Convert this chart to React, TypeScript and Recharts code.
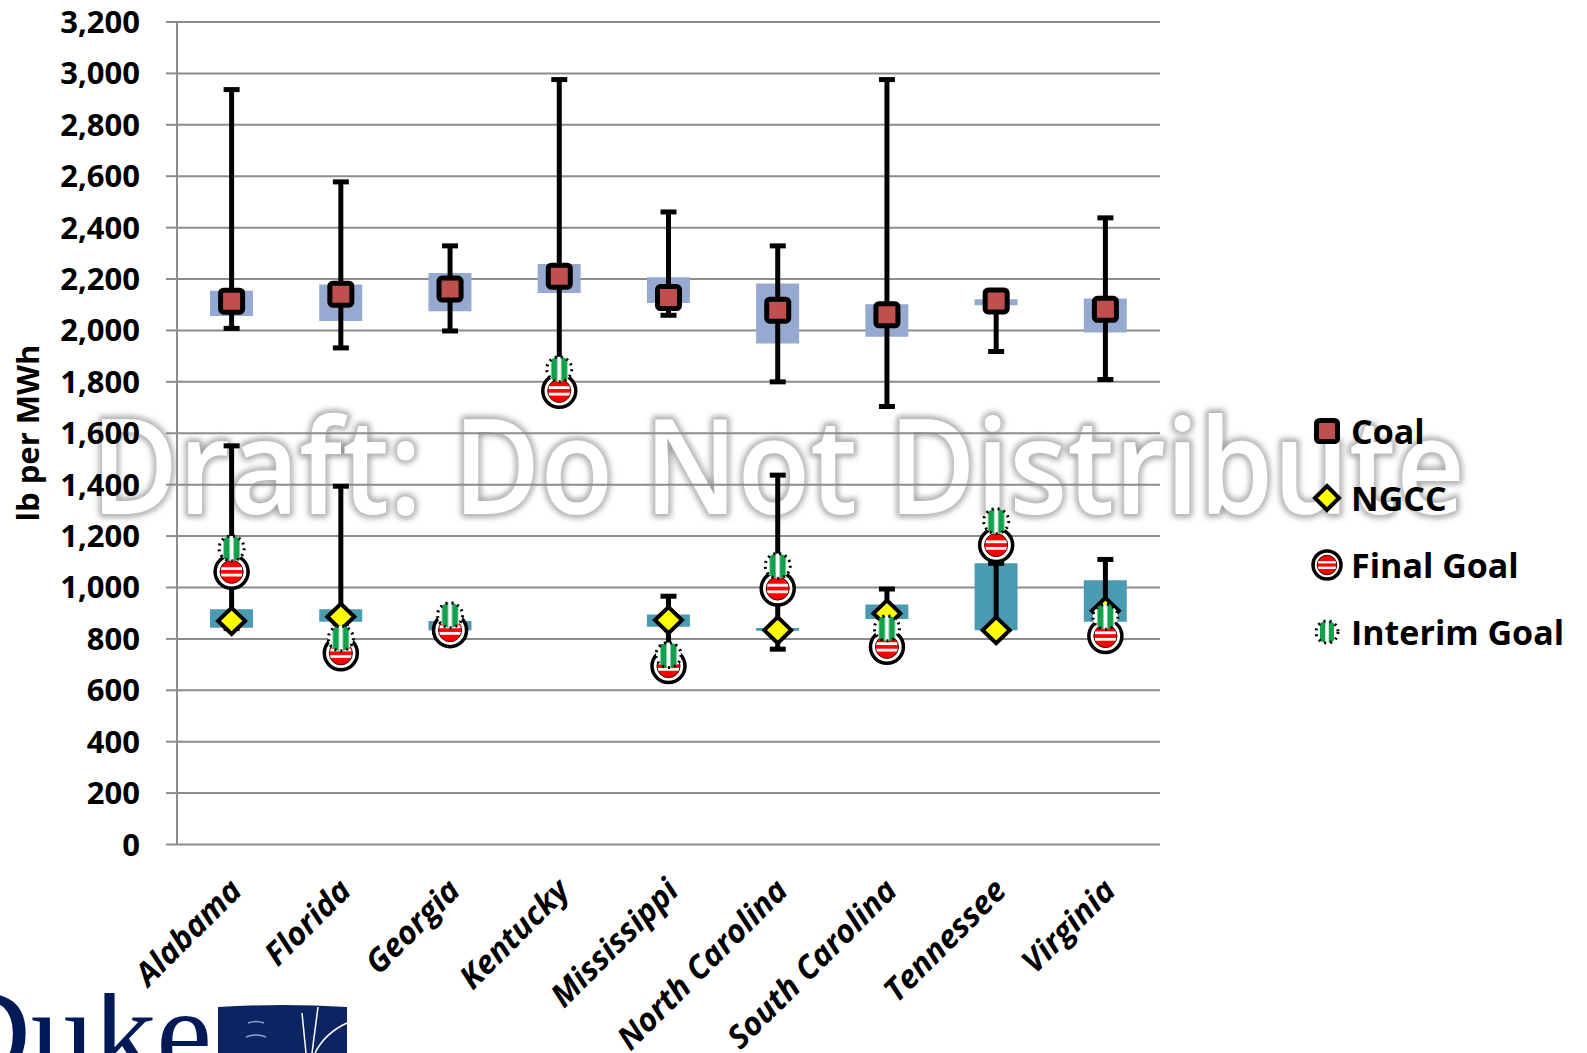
import React from 'react';
import { ComposedChart, Bar, Scatter, ErrorBar, XAxis, YAxis, CartesianGrid, Legend, Label } from 'recharts';

const states = ['Alabama', 'Florida', 'Georgia', 'Kentucky', 'Mississippi', 'North Carolina', 'South Carolina', 'Tennessee', 'Virginia'];

// coal: average, range (whiskers) and box
const coalAvg = [2114, 2141, 2161, 2211, 2128, 2079, 2061, 2115, 2082];
const coalMin = [2008, 1932, 1998, 1790, 2059, 1800, 1704, 1918, 1809];
const coalMax = [2937, 2578, 2329, 2976, 2461, 2329, 2976, 2120, 2438];
const coalBoxLow = [2056, 2037, 2075, 2146, 2107, 1949, 1975, 2098, 1992];
const coalBoxHigh = [2154, 2179, 2223, 2258, 2207, 2183, 2102, 2121, 2124];

// NGCC (Kentucky has none)
const ngccAvg = [870, 886, 845, null, 873, 834, 899, 834, 909];
const ngccMin = [840, 860, 845, null, 770, 760, 860, 834, 880];
const ngccMax = [1551, 1394, 845, null, 966, 1437, 994, 1094, 1109];
const ngccBoxLow = [843, 867, 834, null, 847, 832, 877, 834, 867];
const ngccBoxHigh = [915, 915, 870, null, 895, 842, 934, 1094, 1028];

// goals
const finalGoal = [1061, 744, 834, 1765, 694, 996, 769, 1165, 811];
const interimGoal = [1152, 802, 892, 1849, 737, 1084, 841, 1258, 886];

const yTicks = [0, 200, 400, 600, 800, 1000, 1200, 1400, 1600, 1800, 2000, 2200, 2400, 2600, 2800, 3000, 3200];
const boundaryTicks = [0, 1, 2, 3, 4, 5, 6, 7, 8, 9];

const FONT = '"Open Sans", "Liberation Sans", sans-serif';
const GRID = '#8c8c8c';

const data = states.map((state, i) => ({
  state,
  coal: coalAvg[i],
  coalErr: [coalAvg[i] - coalMin[i], coalMax[i] - coalAvg[i]],
  coalBox: [coalBoxLow[i], coalBoxHigh[i]],
  ngcc: ngccAvg[i],
  ngccErr: ngccAvg[i] == null ? null : [ngccAvg[i] - ngccMin[i], ngccMax[i] - ngccAvg[i]],
  ngccBox: ngccBoxLow[i] == null ? null : [ngccBoxLow[i], ngccBoxHigh[i]],
  finalGoal: finalGoal[i],
  interimGoal: interimGoal[i],
}));
const ngccData = data.filter((d) => d.ngcc != null);

function CoalMark({ cx, cy, side = 22 }: any) {
  const h = side / 2;
  return <rect x={cx - h} y={cy - h} width={side} height={side} rx={3} fill="#c0504d" stroke="#000" strokeWidth={5} />;
}

function NgccMark({ cx, cy, hw = 13.5, hh = 13 }: any) {
  return (
    <path
      d={`M${cx},${cy - hh} L${cx + hw},${cy} L${cx},${cy + hh} L${cx - hw},${cy} Z`}
      fill="#ffff00"
      stroke="#000"
      strokeWidth={4}
    />
  );
}

function FinalMark({ cx, cy, rad = 16.5 }: any) {
  return (
    <g>
      <circle cx={cx} cy={cy} r={rad} fill="#fff" stroke="#000" strokeWidth={3.5} />
      <circle cx={cx} cy={cy} r={rad * 0.7} fill="url(#redStripes)" stroke="#400" strokeWidth={1} />
    </g>
  );
}

function InterimMark({ cx, cy, rad = 12.5 }: any) {
  return <circle cx={cx} cy={cy} r={rad} fill="url(#greenStripes)" stroke="#000" strokeWidth={3} strokeDasharray="2 4" />;
}

function StateTick({ x, y, payload }: any) {
  const tx = x + 12;
  const ty = y + 40;
  return (
    <text
      x={tx}
      y={ty}
      transform={`rotate(-45, ${tx}, ${ty})`}
      textAnchor="end"
      fontFamily={FONT}
      fontSize={32}
      fontWeight="bold"
      fontStyle="italic"
      fill="#000"
    >
      {payload.value}
    </text>
  );
}

const legendItems = [
  { name: 'Coal', mark: <CoalMark cx={18} cy={18} side={21} /> },
  { name: 'NGCC', mark: <NgccMark cx={18} cy={18} hw={12} hh={12} /> },
  { name: 'Final Goal', mark: <FinalMark cx={18} cy={18} rad={14} /> },
  { name: 'Interim Goal', mark: <InterimMark cx={18} cy={18} rad={11} /> },
];

function LegendBox() {
  return (
    <div style={{ fontFamily: FONT }}>
      {legendItems.map((it) => (
        <div key={it.name} style={{ display: 'flex', alignItems: 'center', height: 67 }}>
          <svg width={36} height={36} style={{ overflow: 'visible' }}>{it.mark}</svg>
          <span style={{ marginLeft: 6, fontSize: 34, fontWeight: 'bold', color: '#000' }}>{it.name}</span>
        </div>
      ))}
    </div>
  );
}

export default function App() {
  return (
    <div style={{ position: 'absolute', left: 0, top: 0, width: 1587, height: 1053, background: '#fff', overflow: 'hidden' }}>
      {/* watermark sits behind the plot */}
      <svg width={1587} height={1053} style={{ position: 'absolute', left: 0, top: 0 }}>
        <defs>
          <filter id="wmBlur" x="-5%" y="-20%" width="110%" height="140%">
            <feGaussianBlur stdDeviation="3" />
          </filter>
        </defs>
        <text x={91} y={514} textLength={1374} lengthAdjust="spacingAndGlyphs" fontFamily={FONT} fontSize={132} fontWeight={600}
          fill="none" stroke="#888" strokeWidth={5} filter="url(#wmBlur)">
          Draft: Do Not Distribute
        </text>
        <text x={91} y={514} textLength={1374} lengthAdjust="spacingAndGlyphs" fontFamily={FONT} fontSize={132} fontWeight={600} fill="#fff">
          Draft: Do Not Distribute
        </text>
      </svg>

      <div style={{ position: 'absolute', left: 0, top: 0 }}>
        <ComposedChart width={1587} height={1053} data={data} margin={{ top: 22, right: 427, bottom: 8.5, left: 0 }}>
          <defs>
            <pattern id="redStripes" patternUnits="objectBoundingBox" patternContentUnits="objectBoundingBox" width={1} height={1}>
              <rect x={0} y={0} width={1} height={1} fill="#ff0000" />
              <rect x={0} y={0.3} width={1} height={0.12} fill="#fff" />
              <rect x={0} y={0.58} width={1} height={0.12} fill="#fff" />
            </pattern>
            <pattern id="greenStripes" patternUnits="objectBoundingBox" patternContentUnits="objectBoundingBox" width={1} height={1}>
              <rect x={0} y={0} width={1} height={1} fill="#fff" />
              <rect x={0.18} y={0} width={0.24} height={1} fill="#12a04c" />
              <rect x={0.58} y={0} width={0.24} height={1} fill="#12a04c" />
            </pattern>
          </defs>
          <CartesianGrid xAxisId="cat" horizontal vertical={false} stroke={GRID} strokeWidth={2} strokeDasharray="" />
          <XAxis xAxisId="grid" type="number" domain={[0, 9]} allowDataOverflow ticks={boundaryTicks} height={0}
            tick={false} tickSize={11} axisLine={{ stroke: GRID, strokeWidth: 2 }} tickLine={{ stroke: GRID, strokeWidth: 2 }} />
          <XAxis xAxisId="cat" dataKey="state" type="category" allowDuplicatedCategory={false} height={200}
            axisLine={false} tickLine={false} interval={0} tick={<StateTick />} />
          <XAxis xAxisId="cat2" dataKey="state" type="category" allowDuplicatedCategory={false} hide />
          <YAxis width={177} domain={[0, 3200]} ticks={yTicks} interval={0} allowDataOverflow tickSize={11} tickMargin={26}
            axisLine={{ stroke: GRID, strokeWidth: 2 }} tickLine={{ stroke: GRID, strokeWidth: 2 }}
            tick={{ fontFamily: FONT, fontSize: 31, fontWeight: 'bold', fill: '#000' }}
            tickFormatter={(v: number) => v.toLocaleString('en-US')}>
            <Label
              content={() => (
                <text x={39} y={433} transform="rotate(-90, 39, 433)" textAnchor="middle" fontFamily={FONT}
                  fontSize={31} fontWeight="bold" fill="#000">
                  lb per MWh
                </text>
              )}
            />
          </YAxis>

          <Bar xAxisId="cat" dataKey="coalBox" barSize={43} fill="#95a9d1" isAnimationActive={false} legendType="none" />
          <Bar xAxisId="cat2" dataKey="ngccBox" barSize={43} fill="#4a9ab1" isAnimationActive={false} legendType="none" />

          <Scatter xAxisId="cat" name="Coal" dataKey="coal" shape={<CoalMark />} isAnimationActive={false}>
            <ErrorBar dataKey="coalErr" direction="y" width={8} stroke="#000" strokeWidth={5} />
          </Scatter>
          <Scatter xAxisId="cat" name="NGCC" data={ngccData} dataKey="ngcc" shape={<NgccMark />} isAnimationActive={false}>
            <ErrorBar dataKey="ngccErr" direction="y" width={8} stroke="#000" strokeWidth={5} />
          </Scatter>
          <Scatter xAxisId="cat" name="Final Goal" dataKey="finalGoal" shape={<FinalMark />} isAnimationActive={false} />
          <Scatter xAxisId="cat" name="Interim Goal" dataKey="interimGoal" shape={<InterimMark />} isAnimationActive={false} />

          <Legend layout="horizontal" verticalAlign="middle" align="center" content={() => <LegendBox />}
            wrapperStyle={{ position: 'absolute', left: 1309, top: 397, width: 278 }} />
        </ComposedChart>
      </div>

      {/* logo, cropped at the bottom-left corner */}
      <svg width={400} height={60} style={{ position: 'absolute', left: 0, top: 993 }}>
        <text x={-60} y={82} textLength={272} lengthAdjust="spacingAndGlyphs" fontFamily='"Liberation Serif", serif' fontSize={124} fill="#001a57">Duke</text>
        <path d="M218,14 Q282,10 347,14 L347,60 L218,60 Z" fill="#0c2461" />
        <path d="M302,20 L306,60 M318,14 L312,60 M347,30 Q325,40 315,60" stroke="#fff" strokeWidth={1.5} fill="none" />
        <path d="M248,30 Q256,27 264,30 M246,44 Q256,40 266,44" stroke="#8ea2c8" strokeWidth={1.5} fill="none" />
      </svg>
    </div>
  );
}
